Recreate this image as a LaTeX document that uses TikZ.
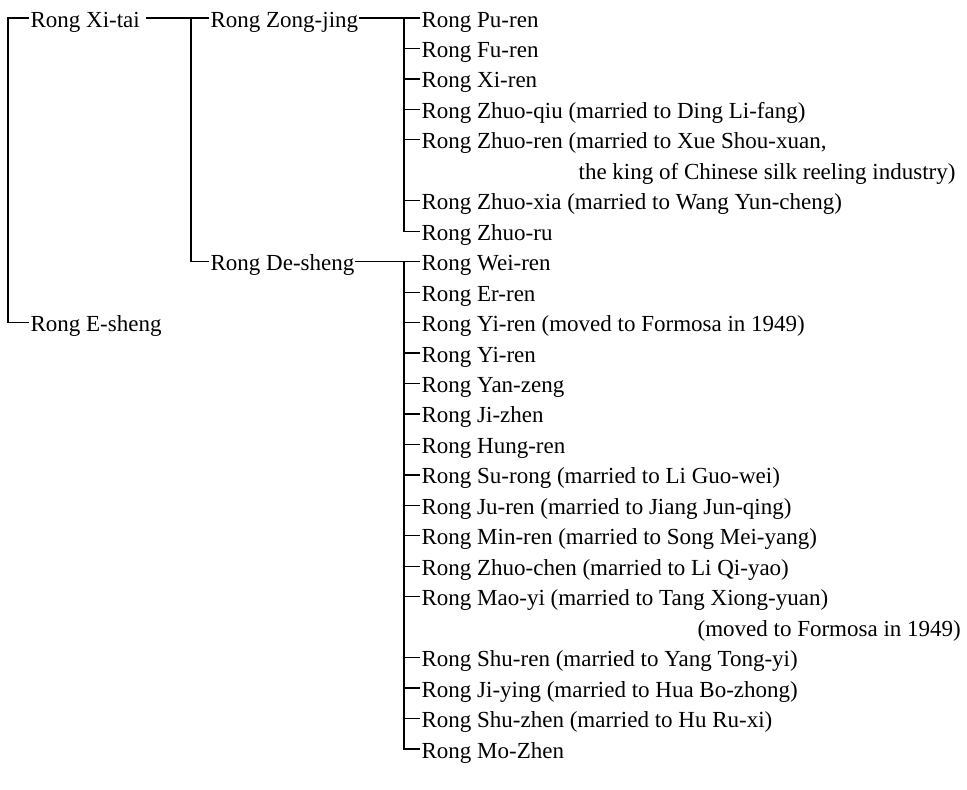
\documentclass[tikz,border=0pt]{standalone}
\usepackage{fontspec}
\setmainfont{Liberation Serif}
\begin{document}
\begin{tikzpicture}[x=1pt,y=-1pt,line width=1.2pt,line join=miter,
  lbl/.style={anchor=west,inner sep=0pt,text height=20pt,text depth=2pt,font=\fontsize{23}{27}\selectfont}]
\useasboundingbox (0,0) rectangle (967,790);
\coordinate (v1) at (8,0);
\coordinate (v2) at (191,0);
\coordinate (v3) at (404,0);
% generation 1
\node[lbl] (xitai) at (30,18) {Rong Xi-tai};
\node[lbl] (esheng) at (30,322.6) {Rong E-sheng};
% generation 2
\node[lbl] (zongjing) at (210,18) {Rong Zong-jing};
\node[lbl] (desheng) at (210,261.7) {Rong De-sheng};
% children of Zong-jing
\node[lbl] (c1) at (421,18) {Rong Pu-ren};
\node[lbl] (c2) at (421,48.5) {Rong Fu-ren};
\node[lbl] (c3) at (421,78.9) {Rong Xi-ren};
\node[lbl] (c4) at (421,109.4) {Rong Zhuo-qiu (married to Ding Li-fang)};
\node[lbl] (c5) at (421,139.8) {Rong Zhuo-ren (married to Xue Shou-xuan,};
\node[lbl] (c5b) at (578,170.3) {the king of Chinese silk reeling industry)};
\node[lbl] (c6) at (421,200.8) {Rong Zhuo-xia (married to Wang Yun-cheng)};
\node[lbl] (c7) at (421,231.2) {Rong Zhuo-ru};
% children of De-sheng
\node[lbl] (d1) at (421,261.7) {Rong Wei-ren};
\node[lbl] (d2) at (421,292.1) {Rong Er-ren};
\node[lbl] (d3) at (421,322.6) {Rong Yi-ren (moved to Formosa in 1949)};
\node[lbl] (d4) at (421,353.0) {Rong Yi-ren};
\node[lbl] (d5) at (421,383.5) {Rong Yan-zeng};
\node[lbl] (d6) at (421,413.9) {Rong Ji-zhen};
\node[lbl] (d7) at (421,444.4) {Rong Hung-ren};
\node[lbl] (d8) at (421,474.9) {Rong Su-rong (married to Li Guo-wei)};
\node[lbl] (d9) at (421,505.3) {Rong Ju-ren (married to Jiang Jun-qing)};
\node[lbl] (d10) at (421,535.8) {Rong Min-ren (married to Song Mei-yang)};
\node[lbl] (d11) at (421,566.2) {Rong Zhuo-chen (married to Li Qi-yao)};
\node[lbl] (d12) at (421,596.7) {Rong Mao-yi (married to Tang Xiong-yuan)};
\node[lbl] (d12b) at (697,627.1) {(moved to Formosa in 1949)};
\node[lbl] (d13) at (421,657.6) {Rong Shu-ren (married to Yang Tong-yi)};
\node[lbl] (d14) at (421,688.0) {Rong Ji-ying (married to Hua Bo-zhong)};
\node[lbl] (d15) at (421,718.5) {Rong Shu-zhen (married to Hu Ru-xi)};
\node[lbl] (d16) at (421,749.0) {Rong Mo-Zhen};
% connectors
\draw ([xshift=-1pt]xitai.west) -- (xitai.west -| v1) |- ([xshift=-1pt]esheng.west);
\draw ([xshift=6pt]xitai.east) -- ([xshift=-1pt]zongjing.west);
\draw (zongjing.west -| v2) |- ([xshift=-1pt]desheng.west);
\draw (zongjing.east) -- ([xshift=-1pt]c1.west);
\draw (c1.west -| v3) |- ([xshift=-1pt]c7.west);
\foreach \n in {c2,c3,c4,c5,c6}
  \draw (\n.west -| v3) -- ([xshift=-1pt]\n.west);
\draw (desheng.east) -- ([xshift=-1pt]d1.west);
\draw (d1.west -| v3) |- ([xshift=-1pt]d16.west);
\foreach \n in {d2,d3,d4,d5,d6,d7,d8,d9,d10,d11,d12,d13,d14,d15}
  \draw (\n.west -| v3) -- ([xshift=-1pt]\n.west);
\end{tikzpicture}
\end{document}
